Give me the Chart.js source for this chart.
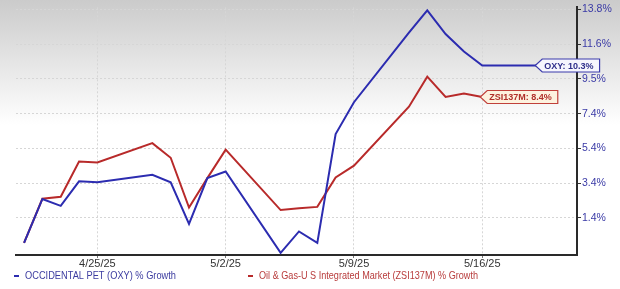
<!DOCTYPE html>
<html>
<head>
<meta charset="utf-8">
<script src="https://cdn.jsdelivr.net/npm/chart.js@4.4.1/dist/chart.umd.min.js"></script>
<style>
  html, body { margin: 0; padding: 0; background: #fff; }
  #wrap { width: 620px; height: 289px; }
</style>
</head>
<body>
<div id="wrap"><canvas id="growthChart" width="620" height="289"></canvas></div>
<script>
// trading days (2025)
const dates = ['4/21', '4/22', '4/23', '4/24', '4/25', '4/28', '4/29', '4/30', '5/1', '5/2',
  '5/5', '5/6', '5/7', '5/8', '5/9', '5/12', '5/13', '5/14', '5/15', '5/16', '5/19'];

// % growth
const oxyGrowth = [-0.08, 2.53, 2.12, 3.58, 3.52, 3.97, 3.52, 1.05, 3.77, 4.16,
  -0.67, 0.60, -0.08, 6.39, 8.28, 12.42, 13.74, 12.33, 11.29, 10.46, 10.46];
const zsiGrowth = [-0.08, 2.54, 2.66, 4.76, 4.70, 5.85, 4.98, 2.02, 3.77, 5.46,
  1.87, 1.98, 2.06, 3.81, 4.51, 8.01, 9.80, 8.59, 8.79, 8.59];

const seriesNames = ['OCCIDENTAL PET (OXY) % Growth', 'Oil & Gas-U S Integrated Market (ZSI137M) % Growth'];
const endLabels = ['OXY: 10.3%', 'ZSI137M: 8.4%'];

const xTickDates = ['4/25', '5/2', '5/9', '5/16'];
const xTickLabels = ['4/25/25', '5/2/25', '5/9/25', '5/16/25'];
const yTickValues = [1.4, 3.467, 5.533, 7.6, 9.667, 11.733, 13.8];
const yTickLabels = ['1.4%', '3.4%', '5.4%', '7.4%', '9.5%', '11.6%', '13.8%'];

// calendar day offset from the first date
function dayOf(d) {
  const p = d.split('/');
  const first = dates[0].split('/');
  return (Date.UTC(2025, +p[0] - 1, +p[1]) - Date.UTC(2025, +first[0] - 1, +first[1])) / 86400000;
}
function toPoints(values) {
  return values.map((v, i) => ({ x: dayOf(dates[i]), y: v }));
}

const FONT = "'Liberation Sans', Arial, sans-serif";

const background = {
  id: 'background',
  beforeDraw(chart) {
    const ctx = chart.ctx;
    const g = ctx.createLinearGradient(0, 0, 0, 125);
    g.addColorStop(0, '#cbcbcb');
    g.addColorStop(1, '#ffffff');
    ctx.save();
    ctx.fillStyle = g;
    ctx.fillRect(0, 0, chart.width, chart.height);
    ctx.restore();
  }
};

// value tags at the end of each line + legend under the axis
const tags = {
  id: 'tags',
  afterDraw(chart) {
    const ctx = chart.ctx;
    const tagStyle = [
      { fill: '#f6f6fd', stroke: '#3b3bab', text: '#2e2e8a' },
      { fill: '#fdf2df', stroke: '#c0403a', text: '#b0302a' }
    ];
    ctx.save();
    ctx.font = 'bold 9px ' + FONT;
    ctx.textBaseline = 'middle';
    chart.data.datasets.forEach((ds, i) => {
      const meta = chart.getDatasetMeta(i);
      const last = meta.data[meta.data.length - 1];
      const x = last.x - 2, y = last.y;
      const w = ctx.measureText(endLabels[i]).width;
      const h = 13;
      const right = x + 9 + w + 6;
      ctx.beginPath();
      ctx.moveTo(x, y);
      ctx.lineTo(x + 7, y - h / 2);
      ctx.lineTo(right, y - h / 2);
      ctx.lineTo(right, y + h / 2);
      ctx.lineTo(x + 7, y + h / 2);
      ctx.closePath();
      ctx.fillStyle = tagStyle[i].fill;
      ctx.fill();
      ctx.lineWidth = 1.2;
      ctx.strokeStyle = tagStyle[i].stroke;
      ctx.stroke();
      ctx.fillStyle = tagStyle[i].text;
      ctx.fillText(endLabels[i], x + 9, y + 0.5);
    });

    const legendX = [14, 248];
    const legendW = [151, 219];
    const legendText = ['#3c3ca0', '#b83c3c'];
    ctx.font = '11px ' + FONT;
    chart.data.datasets.forEach((ds, i) => {
      ctx.strokeStyle = ds.borderColor;
      ctx.lineWidth = 2;
      ctx.beginPath();
      ctx.moveTo(legendX[i], 276);
      ctx.lineTo(legendX[i] + 5, 276);
      ctx.stroke();
      ctx.fillStyle = legendText[i];
      ctx.fillText(ds.label, legendX[i] + 11, 276, legendW[i]);
    });
    ctx.restore();
  }
};

new Chart(document.getElementById('growthChart').getContext('2d'), {
  type: 'line',
  data: {
    datasets: [{
      label: seriesNames[0],
      data: toPoints(oxyGrowth),
      borderColor: '#2c2cb0',
      borderWidth: 2,
      pointRadius: 0,
      tension: 0
    }, {
      label: seriesNames[1],
      data: toPoints(zsiGrowth),
      borderColor: '#b82a2a',
      borderWidth: 2,
      pointRadius: 0,
      tension: 0
    }]
  },
  options: {
    responsive: false,
    animation: false,
    events: [],
    layout: { padding: { left: 16, top: 3, right: 0, bottom: 0 } },
    plugins: {
      legend: { display: false },
      title: { display: false },
      tooltip: { enabled: false }
    },
    scales: {
      x: {
        type: 'linear',
        min: -0.44,
        max: 30.17,
        afterBuildTicks(scale) {
          scale.ticks = xTickDates.map(d => ({ value: dayOf(d) }));
        },
        afterFit(scale) { scale.height = 34; },
        ticks: {
          autoSkip: false,
          maxRotation: 0,
          padding: -1,
          color: '#333',
          font: { family: FONT, size: 11 },
          callback: (v, i) => xTickLabels[i]
        },
        grid: { color: '#d6d6d6', tickColor: '#777', tickLength: 3, lineWidth: 1 },
        border: { color: '#2a2a2a', width: 2, dash: [2, 2] }
      },
      y: {
        type: 'linear',
        position: 'right',
        min: -0.80,
        max: 13.92,
        afterBuildTicks(scale) {
          scale.ticks = yTickValues.map(v => ({ value: v }));
        },
        afterFit(scale) { scale.width = 43; },
        ticks: {
          padding: 1,
          color: '#3a3aa6',
          font: { family: FONT, size: 10.5 },
          callback: (v, i) => yTickLabels[i]
        },
        grid: { color: '#d6d6d6', tickColor: '#333', tickLength: 4, lineWidth: 1 },
        border: { color: '#2a2a2a', width: 2, dash: [2, 2] }
      }
    }
  },
  plugins: [background, tags]
});
</script>
</body>
</html>
